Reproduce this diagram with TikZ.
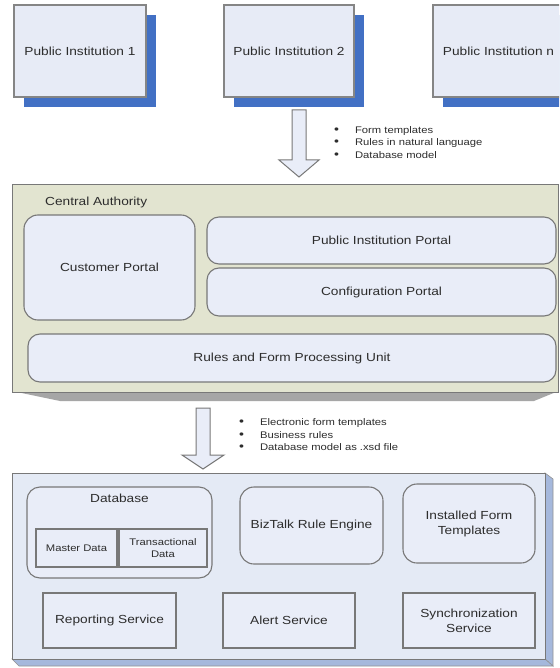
\documentclass[tikz,border=0pt]{standalone}
\usepackage{fontspec}
\setmainfont[FakeStretch=1.17]{Liberation Sans}
\usetikzlibrary{shadows}
\definecolor{shblue}{RGB}{66,112,196}
\definecolor{pifill}{RGB}{231,235,246}
\definecolor{olivebg}{RGB}{226,228,208}
\definecolor{boxfill}{RGB}{233,237,248}
\definecolor{panelblue}{RGB}{228,234,245}
\definecolor{bevelblue}{RGB}{165,184,220}
\definecolor{edgegray}{RGB}{120,120,120}
\definecolor{txtgray}{RGB}{45,45,45}
\newcommand{\bigbul}{{\fontsize{12}{12}\selectfont\textbullet}}
\begin{document}
\begin{tikzpicture}[x=1pt,y=-1pt,
  every node/.style={text=txtgray, font=\fontsize{11.7}{15}\selectfont, inner sep=0pt, align=center},
  pibox/.style={draw=edgegray!90, line width=1.2pt, fill=pifill, minimum height=92pt,
    drop shadow={shadow xshift=10pt, shadow yshift=-10pt, fill=shblue, opacity=1}},
  rbox/.style={draw=edgegray, line width=1.1pt, fill=boxfill, rounded corners=#1},
  rbox/.default=12pt,
  sbox/.style={draw=edgegray, line width=1.1pt, fill=boxfill},
  small/.style={font=\fontsize{9.6}{12.5}\selectfont},
  blocktip/.style={draw=edgegray, line width=1pt, fill=boxfill, line join=miter},
  panel/.style={draw=edgegray, line width=1pt}]
\clip (0,0) rectangle (559,668);
\fill[white] (0,0) rectangle (559,668);

% top institutions
\node[pibox, minimum width=132pt] (pi1) at (80,51) {Public Institution 1};
\node[pibox, minimum width=130pt] (pi2) at (289,51) {Public Institution 2};
\node[pibox, minimum width=131pt] (pin) at (498.5,51) {Public Institution n};

% block arrow 1
\draw[blocktip] (292,110) -- (306,110) -- (306,160) -- (319,160) -- (299,177) -- (279,160) -- (292,160) -- cycle;
\node[small, anchor=west, align=left] (list1) at (334,143.5) {\begin{tabular}{@{}l@{\hspace{16pt}}l@{}}\bigbul & Form templates\\ \bigbul & Rules in natural language\\ \bigbul & Database model\end{tabular}};

% central authority
\fill[gray!70] (12,391) -- (558.5,391) -- (534,401) -- (60,401) -- cycle;
\node[panel, fill=olivebg, minimum width=546.5pt, minimum height=207pt] (ca) at (285.25,288.5) {};
\node[anchor=west] (catitle) at (45,202) {Central Authority};
\node[rbox=14pt, minimum width=171pt, minimum height=105pt] (cust) at (109.5,267.5) {Customer Portal};
\node[rbox, minimum width=349pt, minimum height=47pt] (pip) at (381.5,240.5) {Public Institution Portal};
\node[rbox, minimum width=349pt, minimum height=48pt] (conf) at (381.5,292) {Configuration Portal};
\node[rbox, minimum width=528pt, minimum height=48pt] (rules) at (292,358) {Rules and Form Processing Unit};

% block arrow 2
\draw[blocktip] (196,408) -- (210,408) -- (210,455) -- (224,455) -- (203,469) -- (182,455) -- (196,455) -- cycle;
\node[small, anchor=west, align=left] (list2) at (239,435.7) {\begin{tabular}{@{}l@{\hspace{16pt}}l@{}}\bigbul & Electronic form templates\\ \bigbul & Business rules\\ \bigbul & Database model as .xsd file\end{tabular}};

% bottom panel
\filldraw[fill=bevelblue, draw=edgegray!80, line width=0.6pt] (545,473) -- (553,479) -- (553,666) -- (545,659) -- cycle;
\filldraw[fill=bevelblue, draw=edgegray!80, line width=0.6pt] (12,659) -- (545,659) -- (553,666) -- (19,666) -- cycle;
\node[panel, fill=panelblue, minimum width=533pt, minimum height=186pt] (bp) at (278.5,566) {};

\node[rbox=13pt, minimum width=185pt, minimum height=91pt] (db) at (119.5,532.5) {};
\node (dblabel) at (119.5,498) {Database};
\node[sbox, small, minimum width=81pt, minimum height=38pt] (md) at (76.5,548) {Master Data};
\node[sbox, small, minimum width=88pt, minimum height=38pt] (td) at (163,548) {Transactional\\Data};
\node[rbox=14pt, minimum width=143pt, minimum height=77pt] (bt) at (311.5,525.5) {BizTalk Rule Engine};
\node[rbox=14pt, minimum width=132pt, minimum height=79pt] (ift) at (469,523.5) {Installed Form\\Templates};
\node[sbox, minimum width=133pt, minimum height=55pt] (rep) at (109.5,620.5) {Reporting Service};
\node[sbox, minimum width=132pt, minimum height=55pt] (alert) at (289,620.5) {Alert Service};
\node[sbox, minimum width=132pt, minimum height=55pt] (sync) at (469,620.5) {Synchronization\\Service};
\end{tikzpicture}
\end{document}
